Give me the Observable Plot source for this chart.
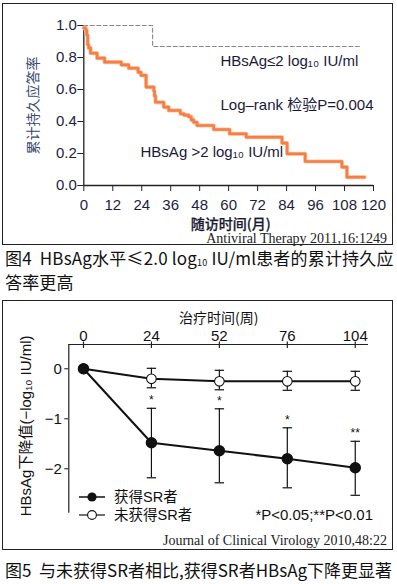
<!DOCTYPE html>
<html><head><meta charset="utf-8">
<script src="https://cdn.jsdelivr.net/npm/d3@7"></script>
<script src="https://cdn.jsdelivr.net/npm/@observablehq/plot@0.6"></script>
<style>
body{margin:0;background:#fff;width:397px;height:584px;position:relative;overflow:hidden;font-family:"Liberation Sans",Arial,"Noto Sans CJK SC",sans-serif;color:#111}
.abs{position:absolute}
.box{position:absolute;border:1.5px solid #222;box-sizing:border-box}
.journal{position:absolute;font-family:"Liberation Serif","Noto Serif CJK SC",serif;font-size:14px;right:10px;white-space:nowrap;color:#222;line-height:15px}
.caption{position:absolute;left:5px;font-family:"Noto Sans CJK SC",sans-serif;font-size:17px;white-space:nowrap;color:#111;line-height:20px}
.sub{font-size:9px;position:relative;top:1px}
.leg{position:absolute;left:78px;top:487.5px;font-family:"Liberation Sans","Noto Sans CJK SC",sans-serif;font-size:14.5px;line-height:18px}
.leg div{display:flex;align-items:center;height:18px}
.leg svg{flex:none}
</style></head>
<body>
<div class="box" style="left:2px;top:3px;width:391px;height:242px"></div>
<div id="c1" class="abs" style="left:0;top:0"></div>
<div class="journal" style="top:230.5px">Antiviral Therapy 2011,16:1249</div>
<div class="caption" style="top:248px;letter-spacing:0.18px">图4&nbsp; HBsAg水平≤2.0 log<span class="sub">10</span> IU/ml患者的累计持久应<br>答率更高</div>

<div class="box" style="left:2px;top:300px;width:391px;height:250px"></div>
<div id="c2" class="abs" style="left:0;top:300px"></div>
<div class="leg">
  <div><svg width="36" height="12"><line x1="1" y1="6" x2="27" y2="6" stroke="#111" stroke-width="1.5"/><circle cx="14" cy="6" r="4.6" fill="#111"/></svg><span>获得SR者</span></div>
  <div><svg width="36" height="12"><line x1="1" y1="6" x2="27" y2="6" stroke="#111" stroke-width="1.2"/><circle cx="14" cy="6" r="4.4" fill="#fff" stroke="#111" stroke-width="1.1"/></svg><span>未获得SR者</span></div>
</div>
<div class="abs" style="right:24px;top:506px;font-size:15px;white-space:nowrap">*P&lt;0.05;**P&lt;0.01</div>
<div class="journal" style="top:532.5px">Journal of Clinical Virology 2010,48:22</div>
<div class="caption" style="top:560px">图5&nbsp; 与未获得SR者相比,获得SR者HBsAg下降更显著</div>

<script>
// ---------- Figure 4 data (Kaplan–Meier style) ----------
const kmMonths = [0, 0.8, 1.2, 1.6, 2.0, 2.8, 5.5, 8.6, 15.5, 18.6, 22.5, 23.7, 25.8, 29.0, 29.3, 29.7, 33.1, 35.2, 40.0, 41.5, 43.4, 44.5, 45.5, 46.9, 53.8, 60.4, 67.3, 82.1, 84.2, 91.7, 106.9, 109.0, 116.3];
const kmHigh   = [0.985, 0.97, 0.94, 0.88, 0.86, 0.827, 0.796, 0.771, 0.754, 0.733, 0.708, 0.688, 0.615, 0.59, 0.56, 0.52, 0.49, 0.469, 0.448, 0.44, 0.43, 0.41, 0.395, 0.375, 0.35, 0.323, 0.302, 0.265, 0.198, 0.15, 0.115, 0.052, 0.052];
const kmLowMonths = [0, 28.5, 114.6];
const kmLow       = [1.0, 0.869, 0.869];
const xTicks1 = [0, 12, 24, 36, 48, 60, 72, 84, 96, 108, 120];
const yTicks1 = [0, 0.2, 0.4, 0.6, 0.8, 1.0];
const notes1 = [
  {t: 113.7, s: 0.78, label: "HBsAg≤2 log₁₀ IU/ml", anchor: "end"},
  {t: 120.0, s: 0.50, label: "Log–rank 检验P=0.004", anchor: "end"},
  {t: 23.5, s: 0.208, label: "HBsAg >2 log₁₀ IU/ml", anchor: "start"}
];

// ---------- Figure 5 data ----------
const weeks   = [0, 24, 52, 76, 104];
const srMean  = [0, -1.48, -1.64, -1.80, -1.98];
const srHi    = [null, -0.79, -0.80, -1.18, -1.45];
const srLo    = [null, -2.18, -2.28, -2.38, -2.53];
const nonMean = [0, -0.20, -0.25, -0.25, -0.25];
const nonHi   = [null, 0.01, -0.03, -0.05, -0.05];
const nonLo   = [null, -0.38, -0.42, -0.43, -0.43];
const sigMarks = ["", "*", "*", "*", "**"];
const yTicks2 = [0, -1, -2];

const km = kmMonths.map((t, i) => ({t, s: kmHigh[i]}));
const kmL = kmLowMonths.map((t, i) => ({t, s: kmLow[i]}));

const c1 = Plot.plot({
  width: 397, height: 235,
  marginLeft: 83.3, marginRight: 24, marginTop: 25, marginBottom: 50,
  style: {fontFamily: "'Liberation Sans', Arial, 'Noto Sans CJK SC', sans-serif", fontSize: "15px", color: "#1e1e3c", background: "transparent"},
  x: {domain: [0, 120], ticks: xTicks1, tickSize: 6, tickPadding: 8, label: null},
  y: {domain: [0, 1], ticks: yTicks1, tickFormat: d3.format(".1f"), tickSize: 6, tickPadding: 1, label: null},
  marks: [
    Plot.ruleX([0], {stroke: "#222", strokeWidth: 1.3}),
    Plot.ruleY([0], {stroke: "#222", strokeWidth: 1.3}),
    Plot.line(kmL, {x: "t", y: "s", curve: "step-after", stroke: "#888", strokeWidth: 1.1, strokeDasharray: "4,2.5"}),
    Plot.line(km, {x: "t", y: "s", curve: "step-after", stroke: "#fbc5a6", strokeWidth: 4.2}),
    Plot.line(km, {x: "t", y: "s", curve: "step-after", stroke: "#f57e45", strokeWidth: 2.6}),
    Plot.text(notes1.filter(d => d.anchor === "end"), {x: "t", y: "s", text: "label", textAnchor: "end", fill: "#1a1a38"}),
    Plot.text(notes1.filter(d => d.anchor === "start"), {x: "t", y: "s", text: "label", textAnchor: "start", fill: "#1a1a38"}),
    Plot.text(["随访时间(月)"], {text: d => d, frameAnchor: "bottom", textAnchor: "middle", dy: 43, dx: 2, fontSize: 14, fontWeight: 500, fontFamily: "'Noto Sans CJK SC', sans-serif", fill: "#1a1a30", stroke: "#1a1a30", strokeWidth: 0.25}),
    Plot.text(["累计持久应答率"], {text: d => d, frameAnchor: "left", textAnchor: "middle", dx: -50, rotate: -90, fontSize: 14, fontFamily: "'Noto Sans CJK SC', sans-serif", fill: "#3a4a70"})
  ]
});
document.getElementById("c1").appendChild(c1);

const rows = weeks.map((w, i) => ({i, w, srMean: srMean[i], srHi: srHi[i], srLo: srLo[i], nonMean: nonMean[i], nonHi: nonHi[i], nonLo: nonLo[i], sig: sigMarks[i]}));
const bars = rows.filter(d => d.srHi != null);
const capSymbol = {draw(ctx, size) { const w = Math.sqrt(size / Math.PI); ctx.moveTo(-w, 0); ctx.lineTo(w, 0); }};
const xDom2 = [-0.216, 4.195];
const yDom2 = [-2.888, 0.486];

const c2 = Plot.plot({
  width: 397, height: 250,
  marginLeft: 68.3, marginRight: 29, marginTop: 44, marginBottom: 37.3,
  style: {fontFamily: "'Liberation Sans', Arial, 'Noto Sans CJK SC', sans-serif", fontSize: "15px", color: "#111", background: "transparent"},
  x: {domain: xDom2, axis: "top", ticks: weeks.map((w, i) => i), tickFormat: i => weeks[i], tickSize: 0, tickPadding: 4, label: null},
  y: {domain: yDom2, ticks: yTicks2, tickFormat: d3.format("d"), tickSize: 4, tickPadding: 3, label: null},
  marks: [
    Plot.ruleY([yDom2[1]], {stroke: "#222", strokeWidth: 1.2}),
    Plot.ruleX([xDom2[0]], {stroke: "#222", strokeWidth: 1.2}),
    Plot.ruleX(rows, {x: "i", y1: yDom2[1] + 0.05, y2: yDom2[1] - 0.08, stroke: "#222", strokeWidth: 1.2}),
    // error bars
    Plot.ruleX(bars, {x: "i", y1: "nonLo", y2: "nonHi", stroke: "#111", strokeWidth: 1.2}),
    Plot.dot(bars, {x: "i", y: "nonHi", symbol: capSymbol, r: 4.7, fill: "none", stroke: "#111", strokeWidth: 1.2}),
    Plot.dot(bars, {x: "i", y: "nonLo", symbol: capSymbol, r: 4.7, fill: "none", stroke: "#111", strokeWidth: 1.2}),
    Plot.ruleX(bars, {x: "i", y1: "srLo", y2: "srHi", stroke: "#111", strokeWidth: 1.2}),
    Plot.dot(bars, {x: "i", y: "srHi", symbol: capSymbol, r: 4.7, fill: "none", stroke: "#111", strokeWidth: 1.2}),
    Plot.dot(bars, {x: "i", y: "srLo", symbol: capSymbol, r: 4.7, fill: "none", stroke: "#111", strokeWidth: 1.2}),
    // lines
    Plot.line(rows, {x: "i", y: "nonMean", stroke: "#111", strokeWidth: 2}),
    Plot.line(rows, {x: "i", y: "srMean", stroke: "#111", strokeWidth: 2}),
    Plot.dot(rows, {x: "i", y: "nonMean", r: 4.8, fill: "#fff", stroke: "#111", strokeWidth: 1.1}),
    Plot.dot(rows, {x: "i", y: "srMean", r: 5, fill: "#111", stroke: "#111"}),
    Plot.text(bars, {x: "i", y: "srHi", text: "sig", dy: -8, fontSize: 12}),
    Plot.text(["治疗时间(周)"], {text: d => d, frameAnchor: "top", textAnchor: "middle", dy: -31, fontSize: 14, fontFamily: "'Noto Sans CJK SC', sans-serif"}),
    Plot.text(["HBsAg下降值(−log₁₀ IU/ml)"], {text: d => d, frameAnchor: "left", textAnchor: "middle", dx: -43, dy: -3, rotate: -90, fontSize: 15})
  ]
});
document.getElementById("c2").appendChild(c2);
</script>
</body></html>
